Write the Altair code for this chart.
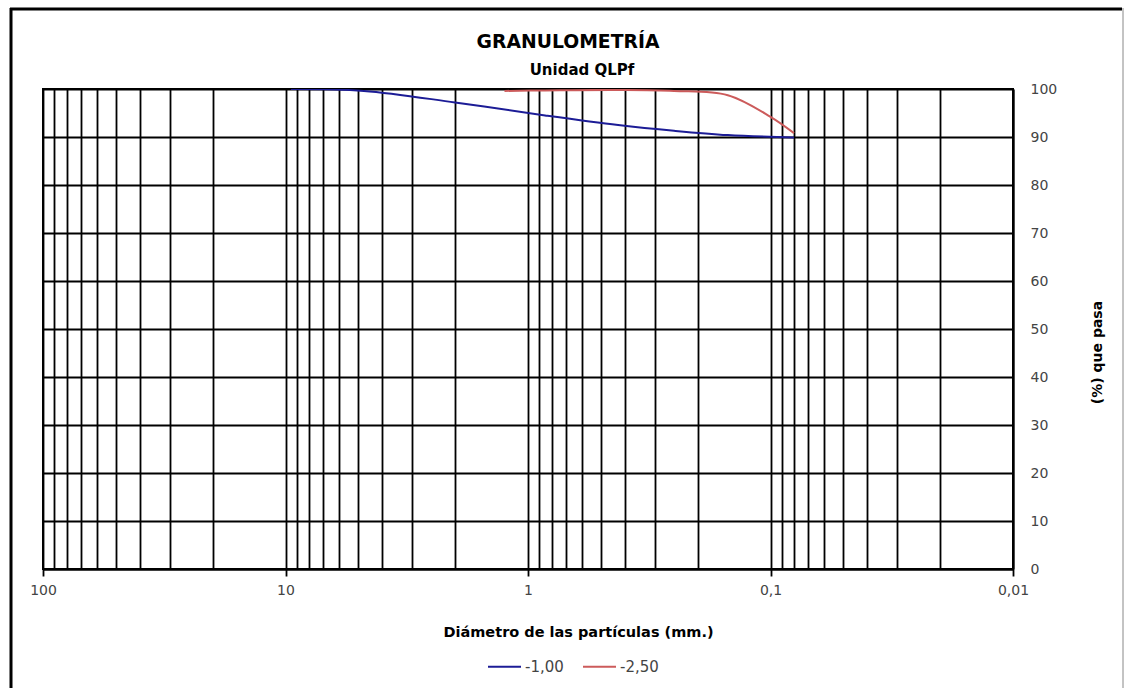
import altair as alt
import pandas as pd

# Grain-size distribution: sieve opening (mm) and cumulative % passing
SIZES_A = [9.5, 4.75, 2.0, 0.85, 0.425, 0.25, 0.15, 0.08]
PASS_A = [100.0, 99.6, 97.2, 94.5, 92.5, 91.3, 90.4, 89.9]
SIZES_B = [1.25, 0.85, 0.425, 0.25, 0.15, 0.1, 0.08]
PASS_B = [99.6, 99.7, 99.8, 99.6, 98.7, 94.2, 90.8]
SERIES = ["-1,00", "-2,50"]
COLORS = ["#1c1c96", "#cc5b5b"]

TITLE = "GRANULOMETRÍA"
SUBTITLE = "Unidad QLPf"
X_TITLE = "Diámetro de las partículas (mm.)"
Y_TITLE = "(%) que pasa"

# Log grid: every 1..9 multiple of each decade, labels on the decades only
GRID_X = [
    0.01, 0.02, 0.03, 0.04, 0.05, 0.06, 0.07, 0.08, 0.09,
    0.1, 0.2, 0.3, 0.4, 0.5, 0.6, 0.7, 0.8, 0.9,
    1, 2, 3, 4, 5, 6, 7, 8, 9,
    10, 20, 30, 40, 50, 60, 70, 80, 90,
    100,
]
Y_TICKS = [0, 10, 20, 30, 40, 50, 60, 70, 80, 90, 100]

FONT = "DejaVu Sans"
W, H = 970, 480

rows = [{"d": d, "p": p, "s": SERIES[0]} for d, p in zip(SIZES_A, PASS_A)]
rows += [{"d": d, "p": p, "s": SERIES[1]} for d, p in zip(SIZES_B, PASS_B)]
df = pd.DataFrame(rows)

is_major = "indexof([100, 10, 1, 0.1, 0.01], datum.value) >= 0"

x_enc = alt.X(
    "d:Q",
    scale=alt.Scale(type="log", domain=[0.01, 100], reverse=True),
    axis=alt.Axis(
        values=GRID_X,
        grid=True,
        gridColor="black",
        gridWidth=1.8,
        gridOpacity=1,
        labelExpr=f"{is_major} ? replace(toString(datum.value), '.', ',') : ''",
        labelOverlap=False,
        labelFlush=False,
        labelBound=False,
        labelFont=FONT,
        labelFontSize=14,
        labelColor="#444444",
        labelPadding=7,
        ticks=True,
        tickSize=7,
        tickColor="black",
        tickWidth=1.8,
        tickOpacity={"condition": {"test": is_major, "value": 1}, "value": 0},
        domainColor="black",
        domainWidth=2,
        title=X_TITLE,
        titleFont=FONT,
        titleFontSize=14.5,
        titleFontWeight="bold",
        titleColor="black",
        titleX=535,
        titleY=63,
        titleAlign="center",
        titleBaseline="middle",
    ),
)

y_enc = alt.Y(
    "p:Q",
    scale=alt.Scale(domain=[0, 100]),
    axis=alt.Axis(
        orient="right",
        values=Y_TICKS,
        grid=True,
        gridColor="black",
        gridWidth=1.8,
        gridOpacity=1,
        ticks=False,
        labelFont=FONT,
        labelFontSize=14,
        labelColor="#444444",
        labelPadding=17,
        domainColor="black",
        domainWidth=2,
        title=Y_TITLE,
        titleFont=FONT,
        titleFontSize=14,
        titleFontWeight="bold",
        titleColor="black",
        titleAngle=270,
        titleX=84,
        titleY=263,
        titleAlign="center",
        titleBaseline="middle",
    ),
)

lines = (
    alt.Chart(df)
    .mark_line(interpolate="catmull-rom", strokeWidth=2, clip=True)
    .encode(
        x=x_enc,
        y=y_enc,
        color=alt.Color(
            "s:N",
            scale=alt.Scale(domain=SERIES, range=COLORS),
            title=None,
            legend=alt.Legend(
                orient="none",
                legendX=444,
                legendY=560,
                direction="horizontal",
                symbolType="stroke",
                symbolSize=1089,
                symbolStrokeWidth=2,
                labelFont=FONT,
                labelFontSize=15,
                labelColor="#444444",
                labelOffset=3,
                columnPadding=15,
            ),
        ),
        order=alt.Order("d:Q", sort="descending"),
    )
)

one = alt.Data(values=[{}])

# Page frame around the whole chart
frame_left = alt.Chart(one).mark_rule(color="black", strokeWidth=3).encode(
    x=alt.value(-32), y=alt.value(-81), y2=alt.value(620)
)
frame_top = alt.Chart(one).mark_rule(color="black", strokeWidth=3).encode(
    x=alt.value(-33), x2=alt.value(1079), y=alt.value(-80)
)
frame_right = alt.Chart(one).mark_rule(color="#888888", strokeWidth=1).encode(
    x=alt.value(1080), y=alt.value(-81), y2=alt.value(620)
)

title_mark = alt.Chart(one).mark_text(
    font=FONT, fontSize=18.8, fontWeight="bold", color="black", baseline="middle"
).encode(x=alt.value(525), y=alt.value(-47), text=alt.value(TITLE))

subtitle_mark = alt.Chart(one).mark_text(
    font=FONT, fontSize=15, fontWeight="bold", color="black", baseline="middle"
).encode(x=alt.value(539), y=alt.value(-19), text=alt.value(SUBTITLE))

chart = (
    alt.layer(frame_left, frame_top, frame_right, lines, title_mark, subtitle_mark)
    .properties(
        width=W,
        height=H,
        autosize=alt.AutoSizeParams(type="none"),
        padding={"left": 43, "top": 89, "right": 1125 - 43 - W, "bottom": 688 - 89 - H},
        background="white",
    )
    .configure_view(stroke="black", strokeWidth=2)
)

chart.save("out.html", embed_options={"renderer": "svg", "actions": False})
